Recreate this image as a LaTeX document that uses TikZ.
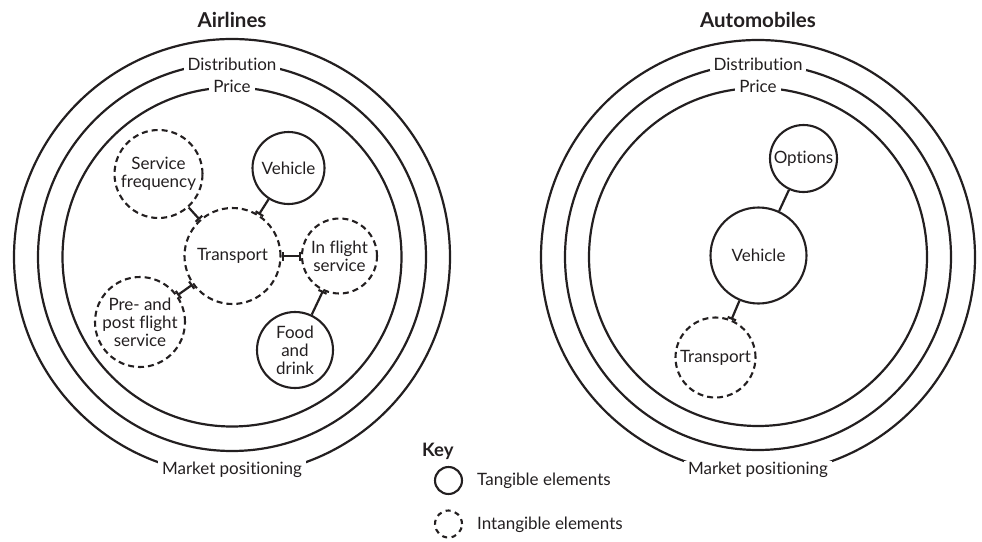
\documentclass[tikz,border=0pt]{standalone}
\usepackage{fontspec}
\setmainfont{Lato}[Ligatures=NoCommon]
\usetikzlibrary{arrows.meta}
\definecolor{ink}{HTML}{231F20}
\begin{document}
\begin{tikzpicture}[x=1pt,y=-1pt,
  every node/.style={text=ink, font=\fontsize{17}{18}\selectfont},
  ring/.style={draw=ink, line width=2.2pt},
  ringlbl/.style={fill=white, inner xsep=4pt, inner ysep=1pt},
  tang/.style={circle, draw=ink, line width=2.1pt, inner sep=0pt},
  intang/.style={tang, dash pattern=on 6pt off 4pt},
  lbl/.style={align=center},
  title/.style={font=\fontsize{20.5}{22}\selectfont\bfseries},
  link/.style={draw=ink, line width=2.2pt},
  barA/.style={-{Bar[width=9pt]}},
  barB/.style={{Bar[width=9pt]}-{Bar[width=9pt]}}
]
\path[use as bounding box] (0,0) rectangle (982,541);

% ---------- Airlines ----------
\node[title] (tA) at (232,20) {Airlines};
\draw[ring] (232,257) circle[radius=218];
\draw[ring] (232,257) circle[radius=194];
\draw[ring] (232,257) circle[radius=169.5];
\node[ringlbl] (dA) at (232,64) {Distribution};
\node[ringlbl] (pA) at (232,86) {Price};
\node[ringlbl] (mA) at (232,470) {Market positioning};

\node[intang, minimum size=88pt, label={[lbl]center:{Service\\frequency}}] (sf) at (158.5,174) {};
\node[tang, minimum size=72pt, label={[lbl]center:{Vehicle}}] (veA) at (288.5,168) {};
\node[intang, minimum size=96pt, label={[lbl]center:{Transport}}] (trA) at (232.5,256) {};
\node[intang, minimum size=75pt, label={[lbl]center:{In flight\\service}}] (ifs) at (339.5,256) {};
\node[intang, minimum size=90pt, label={[lbl]center:{Pre- and\\post flight\\service}}] (pps) at (140,322) {};
\node[tang, minimum size=76pt, label={[lbl]center:{Food\\and\\drink}}] (fd) at (295,350) {};

\draw[link, barA] (sf) -- (trA);
\draw[link, barA] (veA) -- (trA);
\draw[link, barB] (trA) -- (ifs);
\draw[link, barA] (fd) -- (ifs);
\draw[link, barB] (pps) -- (trA);

% ---------- Automobiles ----------
\node[title] (tB) at (758,20) {Automobiles};
\draw[ring] (758,257) circle[radius=217];
\draw[ring] (758,257) circle[radius=193];
\draw[ring] (758,257) circle[radius=169];
\node[ringlbl] (dB) at (758,64) {Distribution};
\node[ringlbl] (pB) at (758,86) {Price};
\node[ringlbl] (mB) at (758,470) {Market positioning};

\node[tang, minimum size=67pt, label={[lbl]center:{Options}}] (op) at (803.5,158.5) {};
\node[tang, minimum size=96pt, label={[lbl]center:{Vehicle}}] (veB) at (758.5,255.5) {};
\node[intang, minimum size=80pt, label={[lbl]center:{Transport}}] (trB) at (715.5,357.5) {};

\draw[link] (op) -- (veB);
\draw[link, barA] (veB) -- (trB);

% ---------- Key ----------
\node[title, font=\fontsize{18.5}{20}\selectfont\bfseries, anchor=west, inner sep=0pt] (key) at (422,451) {Key};
\node[tang, minimum size=27pt] (k1) at (448.5,480.5) {};
\node[intang, minimum size=27pt, dash pattern=on 5pt off 4.5pt] (k2) at (448.5,524) {};
\node[anchor=west, inner sep=0pt] (k1t) at (477,481) {Tangible elements};
\node[anchor=west, inner sep=0pt] (k2t) at (477,525) {Intangible elements};
\end{tikzpicture}
\end{document}
